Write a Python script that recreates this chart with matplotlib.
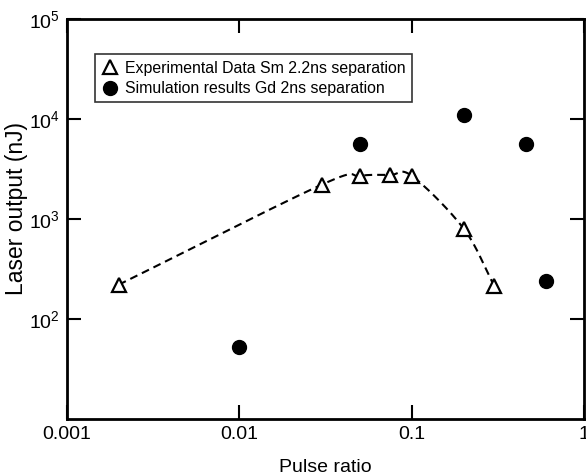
import numpy as np
import matplotlib
matplotlib.use("Agg")
from matplotlib import pyplot as plt

plt.rcParams['font.family'] = ['Liberation Sans', 'DejaVu Sans']
plt.rcParams['mathtext.default'] = 'regular'

# experimental data, Sm 2.2ns separation
exp_ratio = [0.002, 0.03, 0.05, 0.075, 0.1, 0.2, 0.3]
exp_output = [220, 2200, 2700, 2750, 2700, 800, 215]

# simulation results, Gd 2ns separation
sim_ratio = [0.01, 0.05, 0.2, 0.46, 0.6]
sim_output = [52, 5600, 11000, 5600, 240]


def smooth(xs, ys, n=30):
    # catmull-rom through the points in log-log space, just for the dashed guide line
    lx = np.log10(xs); ly = np.log10(ys)
    px = np.concatenate([[2*lx[0]-lx[1]], lx, [2*lx[-1]-lx[-2]]])
    py = np.concatenate([[2*ly[0]-ly[1]], ly, [2*ly[-1]-ly[-2]]])
    ox, oy = [], []
    t = np.linspace(0, 1, n)
    for i in range(1, len(px)-2):
        for p, o in ((px, ox), (py, oy)):
            p0, p1, p2, p3 = p[i-1], p[i], p[i+1], p[i+2]
            o.extend(0.5*((2*p1) + (-p0+p2)*t + (2*p0-5*p1+4*p2-p3)*t**2
                          + (-p0+3*p1-3*p2+p3)*t**3))
    return 10**np.array(ox), 10**np.array(oy)


fig = plt.figure(figsize=(5.86, 4.76), dpi=100)
ax = fig.add_axes([0.114, 0.120, 0.883, 0.840])

cx, cy = smooth(exp_ratio, exp_output)
ax.plot(cx, cy, 'k--', lw=1.5, dashes=(3.8, 2.4), zorder=2)
ax.plot(exp_ratio, exp_output, '^', ms=10, mfc='white', mec='black', mew=1.6,
        ls='none', zorder=3, label='Experimental Data Sm 2.2ns separation')
ax.plot(sim_ratio, sim_output, 'o', ms=10, color='black', ls='none', zorder=3,
        label='Simulation results Gd 2ns separation')

ax.set_xscale('log'); ax.set_yscale('log')
ax.set_xlim(0.001, 1); ax.set_ylim(10, 1e5)
ax.set_xticks([0.001, 0.01, 0.1, 1])
ax.set_xticklabels(['0.001', '0.01', '0.1', '1'])
ax.set_yticks([1e2, 1e3, 1e4, 1e5])
ax.minorticks_off()
ax.tick_params(direction='in', length=10, width=1.5, labelsize=14,
               top=True, right=True, pad=5)
for s in ax.spines.values():
    s.set_linewidth(2)

ax.set_xlabel('Pulse ratio', fontsize=14, labelpad=12)
ax.set_ylabel('Laser output (nJ)', fontsize=16.5)
ax.yaxis.set_label_coords(-0.075, 0.527)

leg = ax.legend(loc='upper left', bbox_to_anchor=(0.055, 0.912), fontsize=11.4,
                frameon=True, fancybox=False, edgecolor='black',
                handlelength=1.0, handletextpad=0.5, borderpad=0.4,
                labelspacing=0.35, borderaxespad=0)
leg.get_frame().set_linewidth(1.2)

fig.savefig('out.png', dpi=100)
